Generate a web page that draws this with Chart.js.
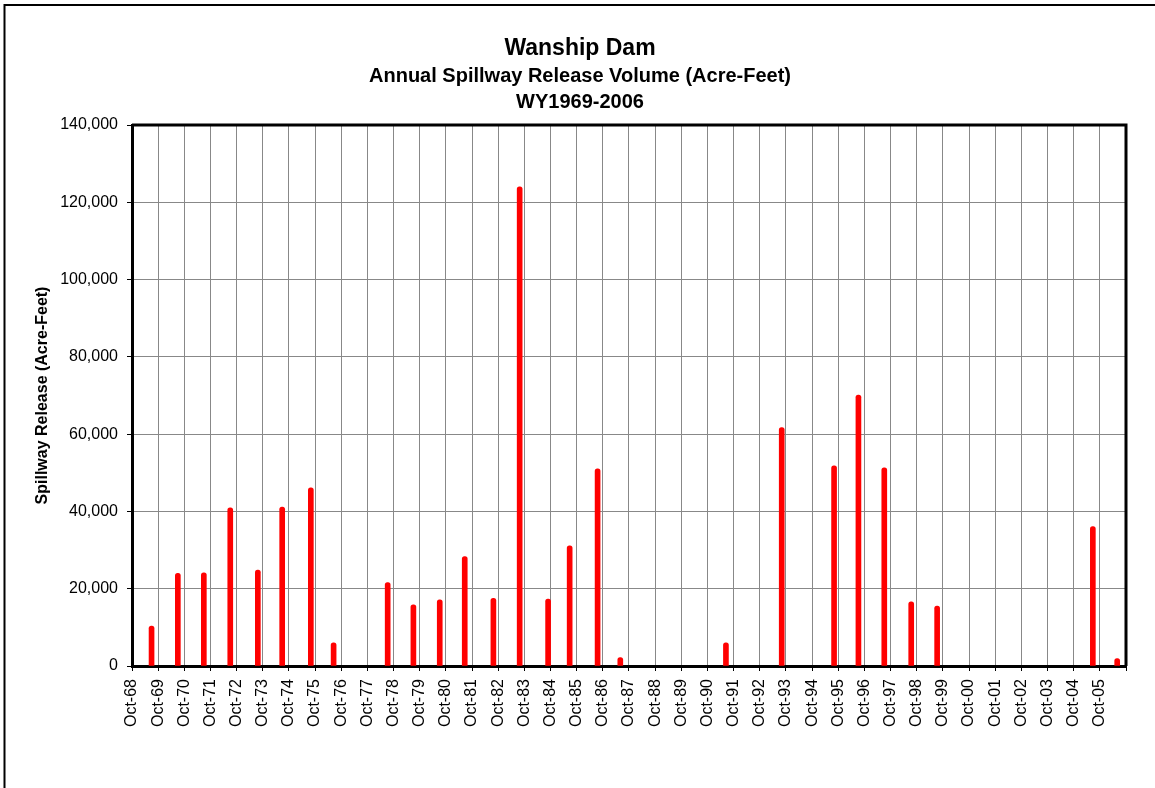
<!DOCTYPE html>
<html>
<head>
<meta charset="utf-8">
<script src="https://cdn.jsdelivr.net/npm/chart.js@4.4.1/dist/chart.umd.min.js"></script>
<style>
  html, body { margin: 0; padding: 0; background: #ffffff; }
  #wrap { width: 1155px; height: 788px; }
</style>
</head>
<body>
<div id="wrap"><canvas id="c" width="1155" height="788"></canvas></div>
<script>
// ---- Data ----
const titleMain = "Wanship Dam";
const titleSub1 = "Annual Spillway Release Volume (Acre-Feet)";
const titleSub2 = "WY1969-2006";
const yAxisTitle = "Spillway Release (Acre-Feet)";

// Dates at which each spill is plotted (Excel date axis)
const releaseDates = [
  "1969-07-01", "1970-07-03", "1971-07-01", "1972-07-04", "1973-07-24",
  "1974-06-29", "1975-08-03", "1976-06-16", "1978-07-11", "1979-07-05",
  "1980-07-07", "1981-06-21", "1982-07-26", "1983-07-28", "1984-08-28",
  "1985-06-25", "1986-07-20", "1987-06-02", "1991-06-16", "1993-08-03",
  "1995-08-04", "1996-07-09", "1997-07-05", "1998-07-16", "1999-07-13",
  "2005-06-25", "2006-05-31"
];
// Annual spillway release volume (acre-feet)
const releaseVolumes = [
  10300, 24000, 24100, 40900, 24800,
  41100, 46100, 6000, 21600, 15800,
  17100, 28300, 17500, 124000, 17300,
  31100, 51000, 2200, 6000, 61700,
  51800, 70100, 51300, 16600, 15500,
  36100, 1900
];

// X tick labels (one per October 1st, last tick unlabeled)
const xTickLabels = [
  "Oct-68","Oct-69","Oct-70","Oct-71","Oct-72","Oct-73","Oct-74","Oct-75",
  "Oct-76","Oct-77","Oct-78","Oct-79","Oct-80","Oct-81","Oct-82","Oct-83",
  "Oct-84","Oct-85","Oct-86","Oct-87","Oct-88","Oct-89","Oct-90","Oct-91",
  "Oct-92","Oct-93","Oct-94","Oct-95","Oct-96","Oct-97","Oct-98","Oct-99",
  "Oct-00","Oct-01","Oct-02","Oct-03","Oct-04","Oct-05",""
];
const tickYears = [
  1968,1969,1970,1971,1972,1973,1974,1975,1976,1977,1978,1979,1980,
  1981,1982,1983,1984,1985,1986,1987,1988,1989,1990,1991,1992,1993,
  1994,1995,1996,1997,1998,1999,2000,2001,2002,2003,2004,2005,2006
];
const yMin = 0, yMax = 140000, yStep = 20000;

// ---- helpers ----
const ORIGIN = Date.UTC(1968, 9, 1);
function toDays(y, m, d) { return (Date.UTC(y, m - 1, d) - ORIGIN) / 86400000; }
function parseDate(s) { const p = s.split("-").map(Number); return toDays(p[0], p[1], p[2]); }
const tickValues = tickYears.map(y => toDays(y, 10, 1));
const points = releaseDates.map((d, i) => ({ x: parseDate(d), y: releaseVolumes[i] }));

const FONT = "'Liberation Sans', Arial, Helvetica, sans-serif";

const framePlugin = {
  id: "framePlugin",
  afterDraw(chart) {
    const ctx = chart.ctx;
    const a = chart.chartArea;
    ctx.save();
    // plot area top and right borders
    ctx.strokeStyle = "#000";
    ctx.lineWidth = 3;
    ctx.beginPath();
    ctx.moveTo(a.left, a.top);
    ctx.lineTo(a.right, a.top);
    ctx.lineTo(a.right, a.bottom);
    ctx.stroke();
    // outer chart frame (right and bottom lie outside the picture)
    ctx.lineWidth = 2;
    ctx.strokeRect(4.5, 5, chart.width + 50, chart.height + 50);
    // titles
    ctx.fillStyle = "#000";
    ctx.textAlign = "center";
    ctx.textBaseline = "alphabetic";
    const cx = 580;
    ctx.font = "bold 23px " + FONT;
    ctx.fillText(titleMain, cx, 55);
    ctx.font = "bold 20px " + FONT;
    ctx.fillText(titleSub1, cx, 82);
    ctx.fillText(titleSub2, cx, 108);
    ctx.restore();
  }
};

new Chart(document.getElementById("c"), {
  type: "bar",
  data: {
    datasets: [{
      data: points,
      backgroundColor: "#ff0000",
      borderWidth: 0,
      barThickness: 5,
      borderRadius: { topLeft: 2.5, topRight: 2.5, bottomLeft: 0, bottomRight: 0 },
      borderSkipped: "start"
    }]
  },
  options: {
    responsive: false,
    animation: false,
    devicePixelRatio: 1,
    layout: { padding: { top: 125, right: 29, bottom: 0, left: 0 } },
    plugins: { legend: { display: false }, tooltip: { enabled: false }, title: { display: false } },
    scales: {
      x: {
        type: "linear",
        min: tickValues[0],
        max: tickValues[tickValues.length - 1],
        offset: false,
        afterBuildTicks(scale) { scale.ticks = tickValues.map(v => ({ value: v })); },
        afterFit(scale) { scale.height = 122; },
        grid: { color: "#888888", lineWidth: 1, offset: false, drawTicks: true, tickLength: 5, tickColor: "#000", tickWidth: 1 },
        border: { color: "#000", width: 3 },
        ticks: {
          autoSkip: false,
          maxRotation: 90, minRotation: 90,
          padding: 8,
          color: "#000",
          font: { family: FONT, size: 16 },
          callback(value, index) { return xTickLabels[index]; }
        }
      },
      y: {
        min: yMin, max: yMax,
        afterFit(scale) { scale.width = 132; },
        grid: { color: "#888888", lineWidth: 1, drawTicks: true, tickLength: 5, tickColor: "#000", tickWidth: 1 },
        border: { color: "#000", width: 3 },
        ticks: {
          stepSize: yStep,
          padding: 9,
          color: "#000",
          font: { family: FONT, size: 16 },
          callback(value) { return value.toLocaleString("en-US"); }
        },
        title: {
          display: true,
          text: yAxisTitle,
          color: "#000",
          font: { family: FONT, size: 16, weight: "bold" },
          padding: { top: 33, bottom: 0 }
        }
      }
    }
  },
  plugins: [framePlugin]
});
</script>
</body>
</html>
